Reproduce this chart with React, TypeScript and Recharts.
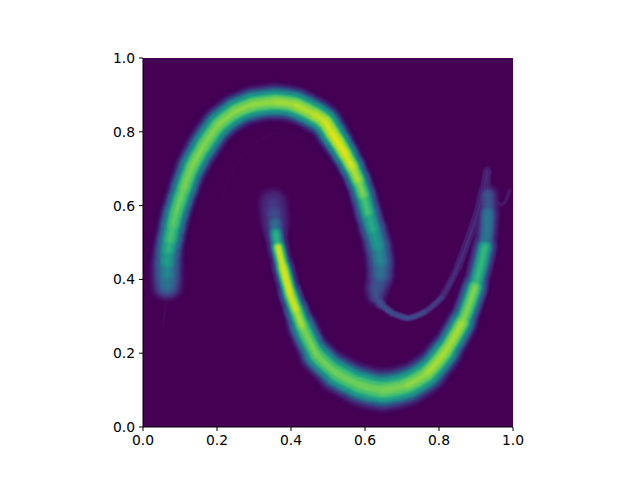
import { CartesianGrid, ComposedChart, Line, XAxis, YAxis } from "recharts";

const TICKS = [0, 0.2, 0.4, 0.6, 0.8, 1];

// viridis, low to high, one colour per density band
const BAND_COLORS = [
  "#471164", "#481f70", "#472d7b", "#443a83", "#404688", "#3b528b", "#365d8d",
  "#31688e", "#2c728e", "#287d8e", "#23888e", "#1f928c", "#1f9e89", "#26a885",
  "#35b779", "#4ac16d", "#6ccd5a", "#90d743", "#b5de2b", "#dae319", "#fde725",
];

// upper arc with its thin trailing curve
const upperX = [0.065, 0.065, 0.065, 0.068, 0.073, 0.081, 0.089, 0.1, 0.111, 0.132, 0.162, 0.203, 0.249, 0.295, 0.357, 0.411, 0.465, 0.492, 0.511, 0.527, 0.546, 0.565, 0.581, 0.595, 0.608, 0.622, 0.635, 0.641, 0.641, 0.632, 0.63, 0.643, 0.673, 0.716, 0.762, 0.808, 0.851, 0.889, 0.916, 0.93];
const upperY = [0.385, 0.412, 0.444, 0.48, 0.507, 0.547, 0.58, 0.615, 0.648, 0.705, 0.759, 0.818, 0.854, 0.873, 0.881, 0.873, 0.846, 0.827, 0.797, 0.772, 0.74, 0.705, 0.669, 0.629, 0.58, 0.534, 0.488, 0.447, 0.412, 0.377, 0.355, 0.333, 0.309, 0.295, 0.312, 0.352, 0.434, 0.534, 0.623, 0.691];
const upperPeak = [0.46, 0.55, 0.66, 0.74, 0.8, 0.83, 0.84, 0.85, 0.87, 0.87, 0.87, 0.88, 0.89, 0.9, 0.92, 0.94, 0.97, 0.99, 1.01, 1.02, 1.02, 1.0, 0.95, 0.88, 0.8, 0.71, 0.63, 0.54, 0.44, 0.32, 0.3, 0.29, 0.28, 0.28, 0.27, 0.22, 0.16, 0.14, 0.15, 0.13];
const upperSpread = [0.02, 0.018, 0.016, 0.015, 0.015, 0.015, 0.015, 0.015, 0.015, 0.016, 0.017, 0.018, 0.018, 0.018, 0.018, 0.018, 0.018, 0.017, 0.016, 0.015, 0.014, 0.013, 0.013, 0.013, 0.014, 0.014, 0.015, 0.016, 0.016, 0.011, 0.007, 0.005, 0.0045, 0.0045, 0.0045, 0.0045, 0.005, 0.006, 0.007, 0.005];

// lower arc
const lowerX = [0.351, 0.354, 0.357, 0.359, 0.365, 0.378, 0.397, 0.414, 0.43, 0.47, 0.524, 0.586, 0.649, 0.714, 0.768, 0.816, 0.862, 0.897, 0.924, 0.932, 0.932];
const lowerY = [0.607, 0.58, 0.553, 0.526, 0.488, 0.434, 0.363, 0.317, 0.274, 0.195, 0.146, 0.114, 0.1, 0.114, 0.146, 0.203, 0.282, 0.379, 0.488, 0.58, 0.629];
const lowerPeak = [0.2, 0.28, 0.45, 0.74, 1.0, 1.1, 1.1, 1.0, 0.94, 0.87, 0.85, 0.85, 0.87, 0.9, 0.93, 0.95, 0.94, 0.88, 0.76, 0.48, 0.32];
const lowerSpread = [0.022, 0.019, 0.014, 0.01, 0.009, 0.009, 0.01, 0.012, 0.013, 0.016, 0.019, 0.021, 0.023, 0.021, 0.019, 0.016, 0.014, 0.012, 0.011, 0.011, 0.013];

// small tails and the faint inner curve
const leftTailX = [0.065, 0.06, 0.054, 0.049];
const leftTailY = [0.353, 0.317, 0.276, 0.236];
const leftTailPeak = [0.14, 0.07, 0.04, 0.025];
const leftTailSpread = [0.006, 0.004, 0.003, 0.002];

const spikeX = [0.93, 0.93, 0.932];
const spikeY = [0.695, 0.67, 0.629];
const spikePeak = [0.12, 0.15, 0.22];
const spikeSpread = [0.002, 0.005, 0.012];

const rightTailX = [0.951, 0.973, 0.992];
const rightTailY = [0.615, 0.604, 0.642];
const rightTailPeak = [0.09, 0.07, 0.07];
const rightTailSpread = [0.006, 0.005, 0.005];

const faintX = [0.173, 0.195, 0.203, 0.214, 0.249, 0.303, 0.365, 0.43, 0.511, 0.559];
const faintY = [0.336, 0.475, 0.58, 0.623, 0.705, 0.77, 0.797, 0.783, 0.718, 0.642];
const faintPeak = [0.03, 0.035, 0.04, 0.04, 0.045, 0.045, 0.045, 0.045, 0.04, 0.035];
const faintSpread = [0.001, 0.001, 0.001, 0.001, 0.001, 0.001, 0.001, 0.001, 0.001, 0.001];

const PLOT_WIDTH = 370;
const ridges = [
  { x: upperX, y: upperY, peak: upperPeak, spread: upperSpread },
  { x: lowerX, y: lowerY, peak: lowerPeak, spread: lowerSpread },
  { x: leftTailX, y: leftTailY, peak: leftTailPeak, spread: leftTailSpread },
  { x: spikeX, y: spikeY, peak: spikePeak, spread: spikeSpread },
  { x: rightTailX, y: rightTailY, peak: rightTailPeak, spread: rightTailSpread },
  { x: faintX, y: faintY, peak: faintPeak, spread: faintSpread },
];

// every band paints short overlapping pieces of each ridge, each as wide as
// the ridge's cross-section is at that band's level
const strokes: { key: string; data: { x: number; y: number }[]; color: string; width: number; blur: string }[] = [];
BAND_COLORS.forEach((color, band) => {
  const level = band === 0 ? 0.02 : band / 20;
  ridges.forEach((r, ri) => {
    for (let i = 1; i < r.x.length - 1; i++) {
      const peak = Math.min(r.peak[i - 1], r.peak[i], r.peak[i + 1]);
      if (peak <= level) continue;
      const spread = ((r.spread[i - 1] + 2 * r.spread[i] + r.spread[i + 1]) / 4) * PLOT_WIDTH;
      // taper a band out where the ridge height nears its level, no sudden blocks
      const taper = Math.min(1, (peak - level) / 0.08);
      const width = 2 * spread * Math.pow(2 * Math.log(peak / level), 0.385) * 1.2 * taper;
      const blur = spread <= 3 ? "band-thin" : width > 14 ? "band-wide" : width > 6 ? "band-mid" : "band-core";
      strokes.push({
        key: `${band}-${ri}-${i}`,
        data: [i - 1, i, i + 1].map((j) => ({ x: r.x[j], y: r.y[j] })),
        color,
        width,
        blur,
      });
    }
  });
});

const tickStyle = { fontFamily: "DejaVu Sans", fontSize: 13.89, fill: "#000" };
const axisLine = { stroke: "#000", strokeWidth: 1 };

export default function App() {
  return (
    <div style={{ position: "absolute", left: 0, top: 0, width: 640, height: 480, background: "#fff" }}>
      <style>{`
        .band-wide { filter: blur(2.6px); }
        .band-mid { filter: blur(1.8px); }
        .band-core { filter: blur(1.2px); }
        .band-thin { filter: blur(0.7px); }
      `}</style>
      <ComposedChart
        width={640}
        height={480}
        margin={{ top: 58, right: 127, bottom: 23, left: 103 }}
      >
        <CartesianGrid horizontal={false} vertical={false} fill="#440154" fillOpacity={1} />
        <XAxis
          dataKey="x"
          type="number"
          domain={[0, 1]}
          ticks={TICKS}
          interval={0}
          height={30}
          tickSize={4}
          tickMargin={4}
          tick={tickStyle}
          axisLine={axisLine}
          tickLine={axisLine}
          tickFormatter={(v: number) => v.toFixed(1)}
        />
        <XAxis xAxisId="top" orientation="top" type="number" domain={[0, 1]} height={0} tick={false} tickLine={false} axisLine={axisLine} />
        <YAxis
          type="number"
          domain={[0, 1]}
          ticks={TICKS}
          interval={0}
          width={40}
          tickSize={4}
          tickMargin={4}
          tick={tickStyle}
          axisLine={axisLine}
          tickLine={axisLine}
          tickFormatter={(v: number) => v.toFixed(1)}
        />
        <YAxis yAxisId="right" orientation="right" type="number" domain={[0, 1]} width={0} tick={false} tickLine={false} axisLine={axisLine} />
        {strokes.map((s) => (
          <Line
            key={s.key}
            className={s.blur}
            type="natural"
            data={s.data}
            dataKey="y"
            stroke={s.color}
            strokeWidth={s.width}
            strokeLinecap="round"
            dot={false}
            activeDot={false}
            legendType="none"
            isAnimationActive={false}
          />
        ))}
      </ComposedChart>
    </div>
  );
}
